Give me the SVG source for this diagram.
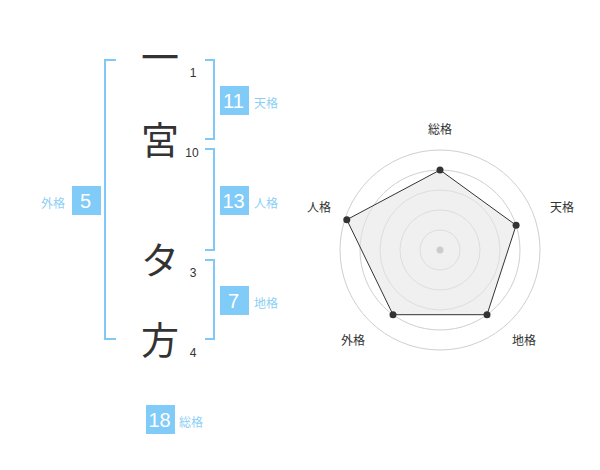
<svg xmlns="http://www.w3.org/2000/svg" width="600" height="470" viewBox="0 0 600 470">
<style>
.ch{font-family:"Noto Sans CJK JP","Noto Sans",sans-serif;font-size:38px;fill:#333;text-anchor:middle}
.num{font-family:"Liberation Sans",Arial,sans-serif;font-size:12px;fill:#333;text-anchor:middle}
.br{fill:none;stroke:#80c9f7;stroke-width:2}
.box{fill:#80cbf8}
.bn{font-family:"Liberation Sans",Arial,sans-serif;font-size:20px;fill:#fff;text-anchor:middle}
.bl{font-family:"Noto Sans CJK JP",sans-serif;font-size:12px;fill:#8ccff5}
.ring{fill:none;stroke:#cfcfcf;stroke-width:1}
.rl{font-family:"Noto Sans CJK JP",sans-serif;font-size:12px;fill:#333;text-anchor:middle}
.dot{fill:#333}
</style>
<rect width="600" height="470" fill="#fff"/>
<g id="chars">
<text class="ch" x="160" y="71">一</text>
<text class="ch" x="160" y="154">宮</text>
<text class="ch" x="160" y="274">タ</text>
<text class="ch" x="160" y="354">方</text>
</g>
<g id="strokes">
<text class="num" x="193" y="77">1</text>
<text class="num" x="192" y="157">10</text>
<text class="num" x="193" y="277">3</text>
<text class="num" x="193" y="357">4</text>
</g>
<g id="connectors">
<path class="br" d="M116,60 H105 V339 H116"/>
<path class="br" d="M205,60 H214 V139 H205"/>
<path class="br" d="M205,149 H214 V250 H205"/>
<path class="br" d="M205,260 H214 V339 H205"/>
</g>
<g id="tenkaku">
<rect class="box" x="220" y="86" width="29" height="29"/>
<text class="bn" x="233.5" y="108">11</text>
<text class="bl" x="254" y="108">天格</text>
</g>
<g id="jinkaku">
<rect class="box" x="220" y="186" width="29" height="29"/>
<text class="bn" x="233.5" y="208">13</text>
<text class="bl" x="254" y="208">人格</text>
</g>
<g id="chikaku">
<rect class="box" x="220" y="286" width="29" height="29"/>
<text class="bn" x="233.5" y="308">7</text>
<text class="bl" x="254" y="308">地格</text>
</g>
<g id="gaikaku">
<rect class="box" x="72" y="186" width="29" height="29"/>
<text class="bn" x="85.5" y="208">5</text>
<text class="bl" x="41" y="208">外格</text>
</g>
<g id="soukaku">
<rect class="box" x="146" y="405" width="29" height="29"/>
<text class="bn" x="159.5" y="427">18</text>
<text class="bl" x="179" y="427">総格</text>
</g>
<g id="radar">
<circle class="ring" cx="440" cy="250" r="20"/>
<circle class="ring" cx="440" cy="250" r="40"/>
<circle class="ring" cx="440" cy="250" r="60"/>
<circle class="ring" cx="440" cy="250" r="80"/>
<circle class="ring" cx="440" cy="250" r="100"/>
<polygon points="440,170 516.1,225.3 487,314.7 393,314.7 346.8,219.7" fill="#e6e6e6" fill-opacity="0.6" stroke="#333" stroke-width="1"/>
<circle cx="440" cy="250" r="3.5" fill="#ccc"/>
<circle class="dot" cx="440" cy="170" r="3.5"/>
<circle class="dot" cx="516.1" cy="225.3" r="3.5"/>
<circle class="dot" cx="487" cy="314.7" r="3.5"/>
<circle class="dot" cx="393" cy="314.7" r="3.5"/>
<circle class="dot" cx="346.8" cy="219.7" r="3.5"/>
<text class="rl" x="440" y="134">総格</text>
<text class="rl" x="562" y="212">天格</text>
<text class="rl" x="319" y="212">人格</text>
<text class="rl" x="524" y="345">地格</text>
<text class="rl" x="353" y="345">外格</text>
</g>
</svg>
